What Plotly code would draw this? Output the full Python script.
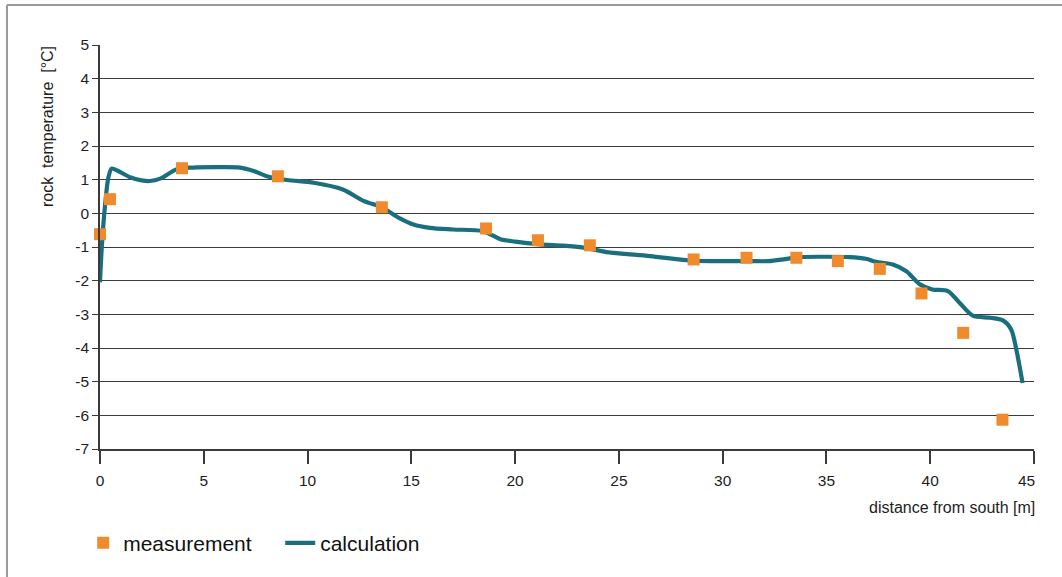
import plotly.graph_objects as go

# Measured rock temperatures along the profile
meas_x = [0.0, 0.48, 3.95, 8.57, 13.58, 18.6, 21.1, 23.6, 28.6, 31.15, 33.55, 35.55, 37.57, 39.58, 41.59, 43.48]
meas_y = [-0.62, 0.42, 1.34, 1.10, 0.18, -0.45, -0.80, -0.95, -1.37, -1.32, -1.32, -1.42, -1.65, -2.38, -3.55, -6.13]

# Calculated temperature profile
calc_x = [0.0, 0.08, 0.24, 0.4, 0.56, 0.9, 1.45, 2.0, 2.4, 2.9, 3.7, 4.5, 5.5, 6.75, 7.4, 8.0, 9.0,
          10.3, 11.7, 12.7, 13.6, 14.45, 15.1, 15.9, 17.0, 18.45, 19.3, 20.0, 21.2, 22.3, 23.3, 24.4,
          26.5, 28.4, 29.5, 31.3, 32.2, 33.0, 33.7, 35.0, 36.1, 36.9, 37.4, 38.2, 38.85, 39.5, 40.1,
          40.85, 41.4, 42.05, 42.9, 43.5, 43.9, 44.15, 44.45]
calc_y = [-2.05, -1.07, 0.22, 1.05, 1.33, 1.25, 1.07, 0.98, 0.96, 1.03, 1.31, 1.36, 1.37, 1.36, 1.26,
          1.11, 0.99, 0.91, 0.71, 0.37, 0.17, -0.15, -0.33, -0.43, -0.48, -0.53, -0.77, -0.84, -0.92,
          -0.96, -1.02, -1.15, -1.27, -1.40, -1.42, -1.42, -1.42, -1.36, -1.30, -1.29, -1.30, -1.35,
          -1.44, -1.52, -1.72, -2.11, -2.26, -2.31, -2.65, -3.04, -3.10, -3.18, -3.45, -4.05, -5.04]

y_ticks = list(range(-7, 6))
y_ticktext = [str(v) for v in y_ticks]  # plain hyphen minus signs
x_ticks = list(range(0, 50, 5))
# the last label sits right-aligned at the axis end, drawn separately
x_ticktext = [str(v) for v in x_ticks[:-1]] + [""]

ORANGE = "#EF8A2D"
TEAL = "#1A6F7E"
FONT = "Liberation Sans, Arial, sans-serif"
TXT = "#1e1e1e"

fig = go.Figure()

fig.add_trace(go.Scatter(
    x=calc_x, y=calc_y, mode="lines", name="calculation",
    line=dict(color=TEAL, width=4.2, shape="spline", smoothing=0.8),
    cliponaxis=False, legendrank=2,
))
fig.add_trace(go.Scatter(
    x=meas_x, y=meas_y, mode="markers", name="measurement",
    marker=dict(symbol="square", size=12, color=ORANGE),
    cliponaxis=False, legendrank=1,
))

fig.update_xaxes(
    range=[0, 45], tickvals=x_ticks, ticktext=x_ticktext, showgrid=False, zeroline=False,
    showline=True, linecolor="#3a3a3a", linewidth=1.5,
    ticks="outside", ticklen=13, tickcolor="#3a3a3a", tickwidth=1.5,
    ticklabelstandoff=4,
    tickfont=dict(family=FONT, size=15.5, color=TXT),
)
fig.update_yaxes(
    range=[-7, 5], tickvals=y_ticks, ticktext=y_ticktext, showgrid=True,
    gridcolor="#3c3c3c", gridwidth=1,
    zeroline=False, showline=True, linecolor="#3a3a3a", linewidth=1.5,
    ticks="outside", ticklen=6, tickcolor="#3a3a3a", tickwidth=1,
    tickfont=dict(family=FONT, size=15.5, color=TXT),
)

fig.update_layout(
    width=1062, height=577,
    margin=dict(l=100, r=28, t=45, b=128),
    paper_bgcolor="white", plot_bgcolor="white",
    showlegend=True,
    legend=dict(
        orientation="h", x=-0.018, xanchor="left", y=-0.233, yanchor="middle",
        entrywidth=152,
        font=dict(family=FONT, size=21, color="#111"), bgcolor="rgba(0,0,0,0)",
    ),
    annotations=[
        dict(text="45", xref="x", yref="paper", x=45, y=-0.078, xshift=3,
             xanchor="right", yanchor="middle", showarrow=False,
             font=dict(family=FONT, size=15.5, color=TXT)),
        dict(text="distance from south [m]", xref="paper", yref="paper", xshift=3,
             x=1.0, y=-0.146, xanchor="right", yanchor="middle", showarrow=False,
             font=dict(family=FONT, size=16, color=TXT)),
        dict(text="rock  temperature  [°C]", xref="paper", yref="paper",
             x=-0.0567, y=0.797, xanchor="center", yanchor="middle", textangle=-90,
             showarrow=False, font=dict(family=FONT, size=16, color=TXT)),
    ],
    shapes=[
        dict(type="line", xref="paper", yref="paper", x0=-0.0996, x1=1.04, y0=1.099, y1=1.099,
             line=dict(color="#9a9a9a", width=2)),
        dict(type="line", xref="paper", yref="paper", x0=-0.0996, x1=-0.0996, y0=-0.33, y1=1.099,
             line=dict(color="#9a9a9a", width=2)),
    ],
)

fig.write_html("out.html")
